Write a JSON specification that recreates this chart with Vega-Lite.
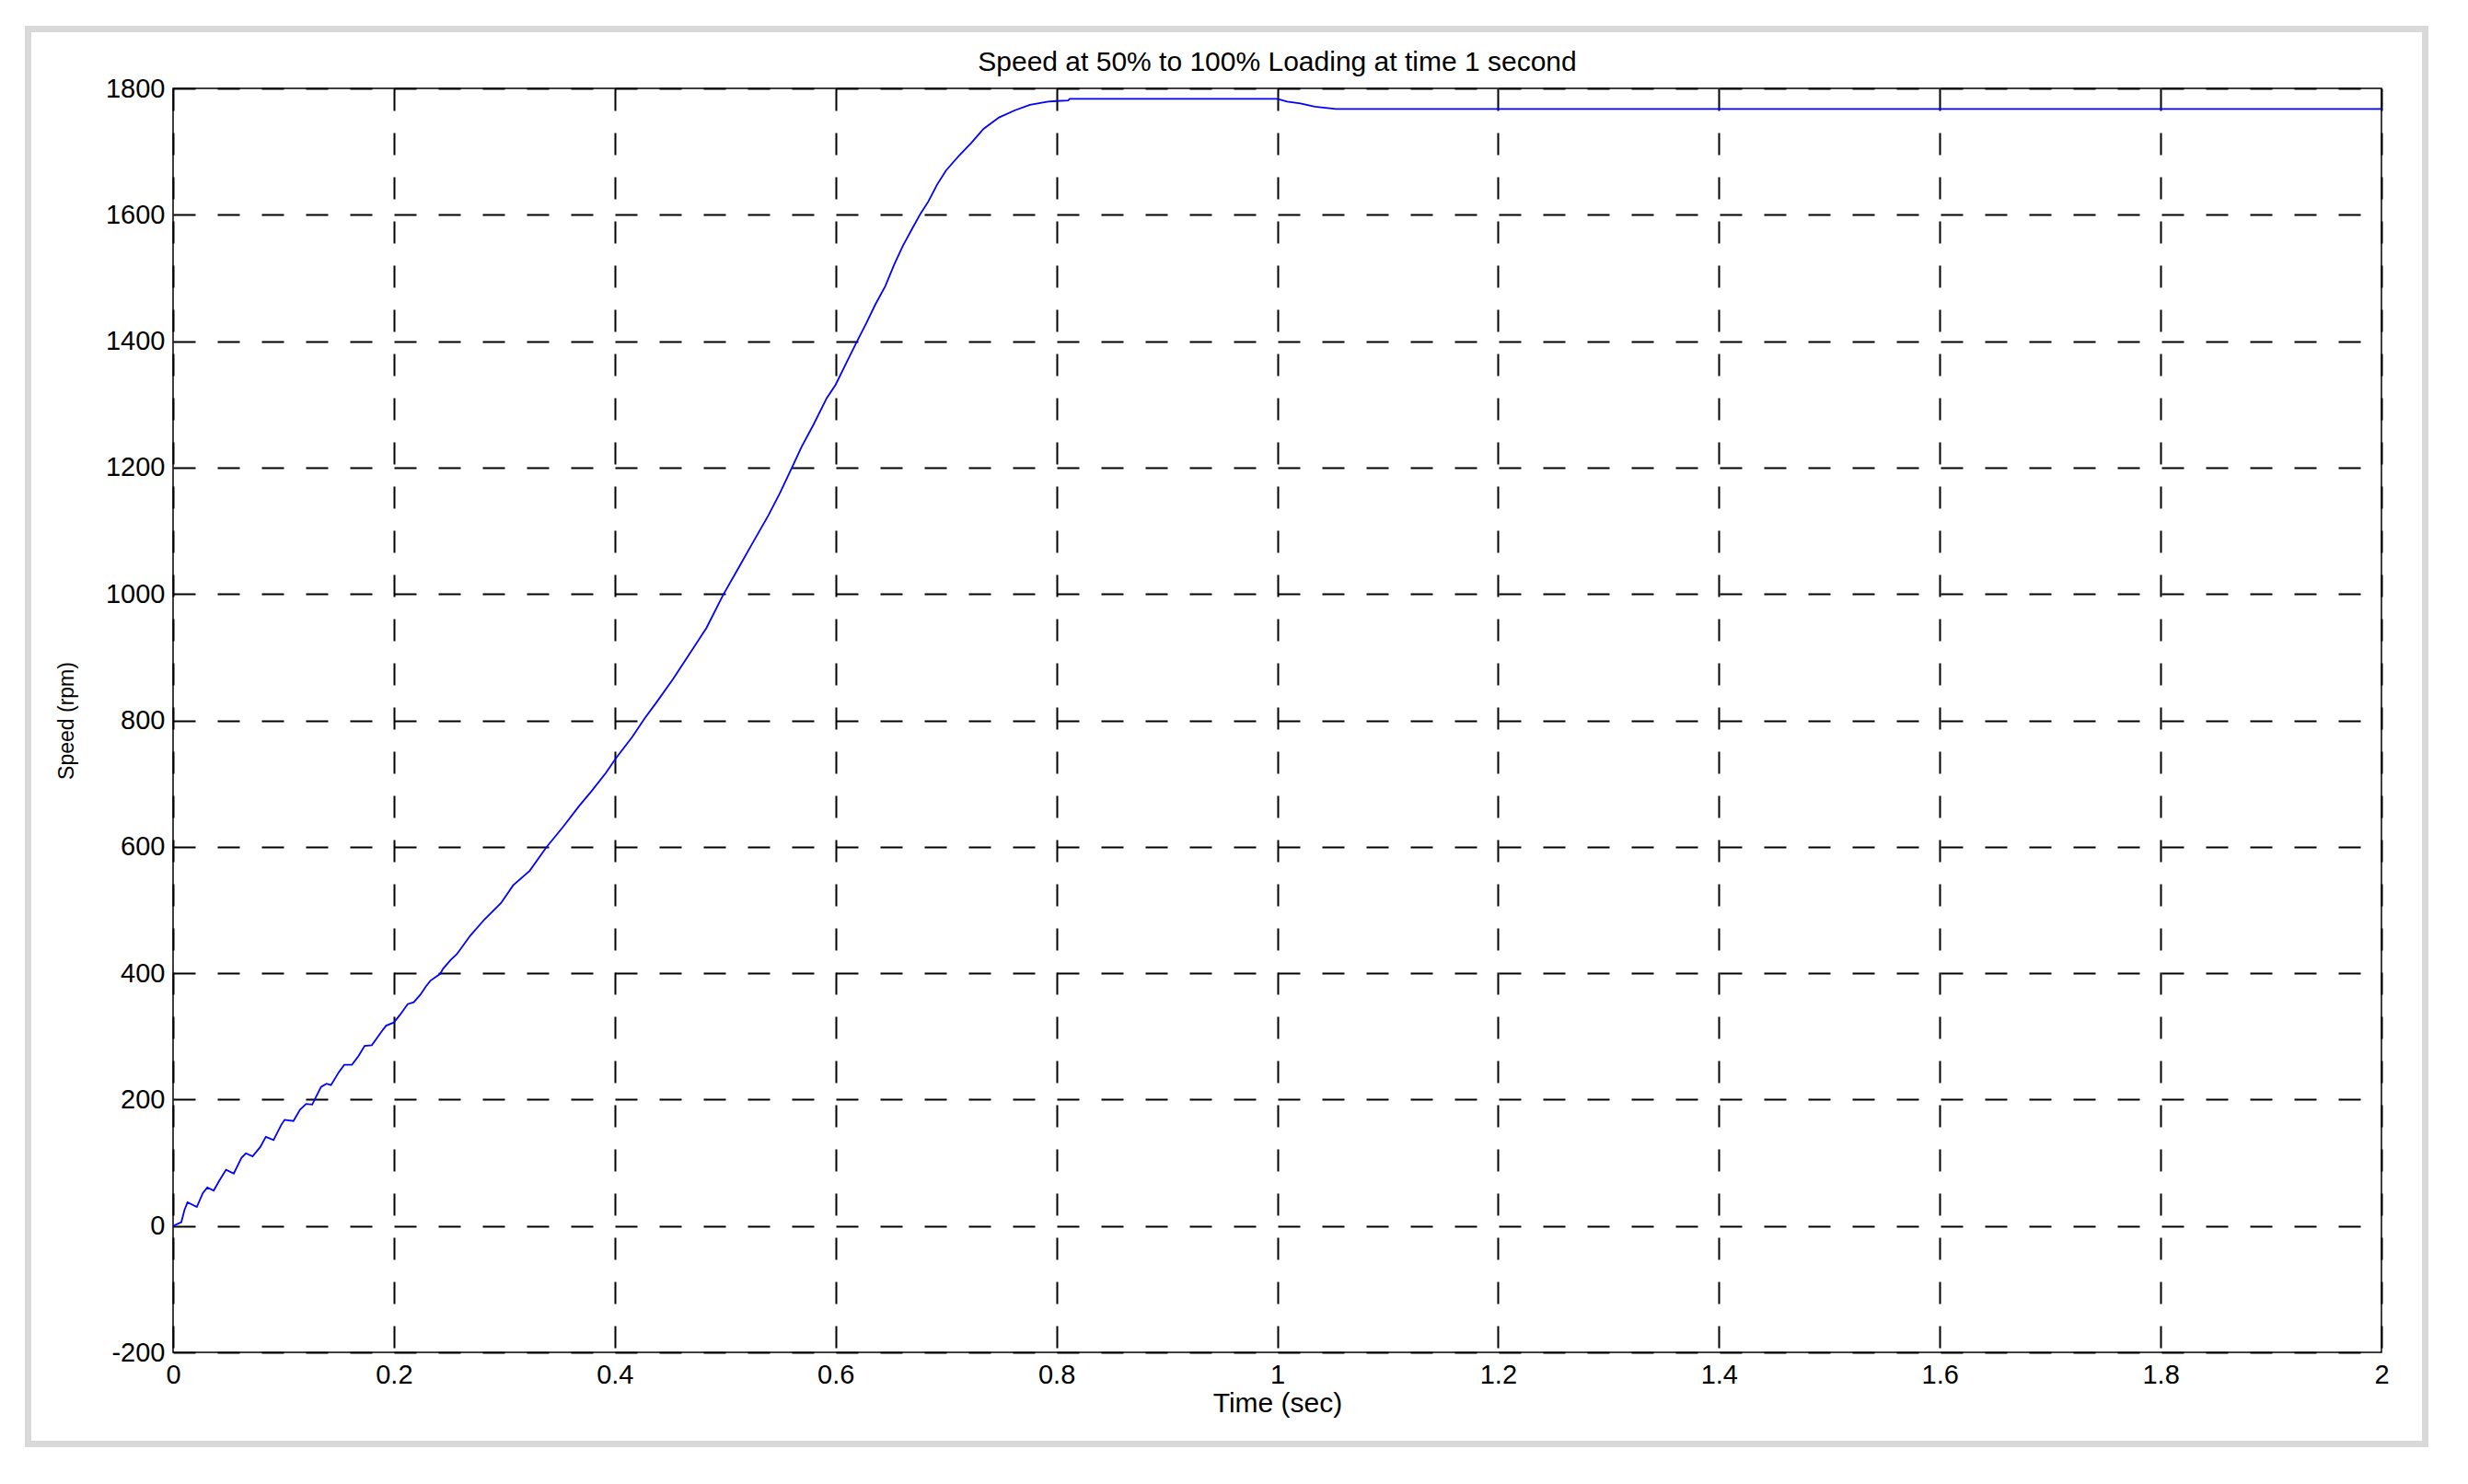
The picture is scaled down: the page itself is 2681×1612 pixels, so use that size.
{
  "$schema": "https://vega.github.io/schema/vega-lite/v6.json",
  "width": 2399,
  "height": 1373,
  "autosize": {"type": "none"},
  "padding": {"left": 188, "top": 96, "right": 94, "bottom": 143},
  "background": "#ffffff",
  "title": {
    "text": "Speed at 50% to 100% Loading at time 1 second",
    "font": "Liberation Sans",
    "fontSize": 30,
    "fontWeight": "normal",
    "color": "#000000",
    "anchor": "middle",
    "baseline": "alphabetic",
    "offset": -79
  },
  "config": {
    "view": {"stroke": "#000000", "strokeWidth": 1.5},
    "axis": {
      "labelFont": "Liberation Sans",
      "labelFontSize": 29,
      "labelColor": "#000000",
      "titleFont": "Liberation Sans",
      "titleFontWeight": "normal",
      "titleColor": "#000000",
      "ticks": false,
      "domain": false,
      "grid": true,
      "gridColor": "#000000",
      "gridWidth": 2,
      "gridDash": [24, 24],
      "gridOpacity": 1
    }
  },
  "data": {
    "values": [
      {"t": 0, "speed": 0},
      {"t": 0.0075, "speed": 6},
      {"t": 0.0103, "speed": 25},
      {"t": 0.0131, "speed": 37.6},
      {"t": 0.0215, "speed": 30},
      {"t": 0.027, "speed": 52},
      {"t": 0.031, "speed": 61},
      {"t": 0.0368, "speed": 56},
      {"t": 0.042, "speed": 72},
      {"t": 0.048, "speed": 89},
      {"t": 0.055, "speed": 83},
      {"t": 0.062, "speed": 108},
      {"t": 0.066, "speed": 115},
      {"t": 0.072, "speed": 110},
      {"t": 0.079, "speed": 125},
      {"t": 0.084, "speed": 141},
      {"t": 0.091, "speed": 136},
      {"t": 0.098, "speed": 160},
      {"t": 0.101, "speed": 168},
      {"t": 0.109, "speed": 166},
      {"t": 0.115, "speed": 184},
      {"t": 0.1205, "speed": 193},
      {"t": 0.126, "speed": 192},
      {"t": 0.134, "speed": 220},
      {"t": 0.139, "speed": 225},
      {"t": 0.143, "speed": 223},
      {"t": 0.15, "speed": 243},
      {"t": 0.155, "speed": 255},
      {"t": 0.162, "speed": 255},
      {"t": 0.168, "speed": 269},
      {"t": 0.1735, "speed": 285},
      {"t": 0.18, "speed": 286},
      {"t": 0.189, "speed": 308},
      {"t": 0.193, "speed": 317},
      {"t": 0.2, "speed": 322},
      {"t": 0.2055, "speed": 334},
      {"t": 0.2125, "speed": 351},
      {"t": 0.218, "speed": 354},
      {"t": 0.224, "speed": 366},
      {"t": 0.229, "speed": 379},
      {"t": 0.233, "speed": 388},
      {"t": 0.242, "speed": 399},
      {"t": 0.2445, "speed": 407},
      {"t": 0.2515, "speed": 421},
      {"t": 0.257, "speed": 430},
      {"t": 0.269, "speed": 459},
      {"t": 0.282, "speed": 485},
      {"t": 0.297, "speed": 511},
      {"t": 0.308, "speed": 539},
      {"t": 0.323, "speed": 562},
      {"t": 0.338, "speed": 599},
      {"t": 0.353, "speed": 631},
      {"t": 0.368, "speed": 665},
      {"t": 0.379, "speed": 688},
      {"t": 0.392, "speed": 717},
      {"t": 0.401, "speed": 740},
      {"t": 0.416, "speed": 774},
      {"t": 0.427, "speed": 803},
      {"t": 0.438, "speed": 829},
      {"t": 0.453, "speed": 866},
      {"t": 0.468, "speed": 906},
      {"t": 0.483, "speed": 946},
      {"t": 0.498, "speed": 998},
      {"t": 0.513, "speed": 1044},
      {"t": 0.524, "speed": 1078},
      {"t": 0.539, "speed": 1124},
      {"t": 0.55, "speed": 1161},
      {"t": 0.561, "speed": 1202},
      {"t": 0.569, "speed": 1232},
      {"t": 0.58, "speed": 1268},
      {"t": 0.592, "speed": 1310},
      {"t": 0.6, "speed": 1331},
      {"t": 0.611, "speed": 1370},
      {"t": 0.6195, "speed": 1400},
      {"t": 0.628, "speed": 1429},
      {"t": 0.636, "speed": 1458},
      {"t": 0.645, "speed": 1487},
      {"t": 0.653, "speed": 1521},
      {"t": 0.661, "speed": 1551},
      {"t": 0.67, "speed": 1580},
      {"t": 0.677, "speed": 1602},
      {"t": 0.684, "speed": 1621},
      {"t": 0.692, "speed": 1648},
      {"t": 0.7, "speed": 1670},
      {"t": 0.712, "speed": 1694},
      {"t": 0.723, "speed": 1714},
      {"t": 0.734, "speed": 1736},
      {"t": 0.748, "speed": 1754},
      {"t": 0.762, "speed": 1765},
      {"t": 0.776, "speed": 1774},
      {"t": 0.7925, "speed": 1779},
      {"t": 0.8, "speed": 1780},
      {"t": 0.8106, "speed": 1781},
      {"t": 0.812, "speed": 1783.5},
      {"t": 1.0, "speed": 1783.5},
      {"t": 1.009, "speed": 1779},
      {"t": 1.021, "speed": 1776},
      {"t": 1.034, "speed": 1771},
      {"t": 1.053, "speed": 1767.5},
      {"t": 1.06, "speed": 1767.5},
      {"t": 2.0, "speed": 1767.5}
    ]
  },
  "layer": [
    {
      "mark": {"type": "line", "color": "#0000ff", "strokeWidth": 1.8, "clip": true},
      "encoding": {
        "x": {
          "field": "t",
          "type": "quantitative",
          "scale": {"domain": [0, 2], "nice": false, "zero": false},
          "axis": {
            "title": "Time (sec)",
            "titleFontSize": 30,
            "titlePadding": 1,
            "labelPadding": 10,
            "values": [0, 0.2, 0.4, 0.6, 0.8, 1, 1.2, 1.4, 1.6, 1.8, 2],
            "labelExpr": "'' + datum.value",
            "labelFlush": false
          }
        },
        "y": {
          "field": "speed",
          "type": "quantitative",
          "scale": {"domain": [-200, 1800], "nice": false, "zero": false},
          "axis": {
            "title": "Speed (rpm)",
            "titleFontSize": 23,
            "titlePadding": 30,
            "labelPadding": 9,
            "values": [-200, 0, 200, 400, 600, 800, 1000, 1200, 1400, 1600, 1800],
            "labelExpr": "'' + datum.value",
            "labelFlush": false
          }
        }
      }
    },
    {
      "mark": {"type": "rect", "fill": null, "stroke": "#d9d9d9", "strokeWidth": 7, "clip": false},
      "encoding": {
        "x": {"datum": -0.1313, "type": "quantitative"},
        "x2": {"datum": 2.0396},
        "y": {"datum": 1894, "type": "quantitative"},
        "y2": {"datum": -345}
      }
    }
  ]
}
